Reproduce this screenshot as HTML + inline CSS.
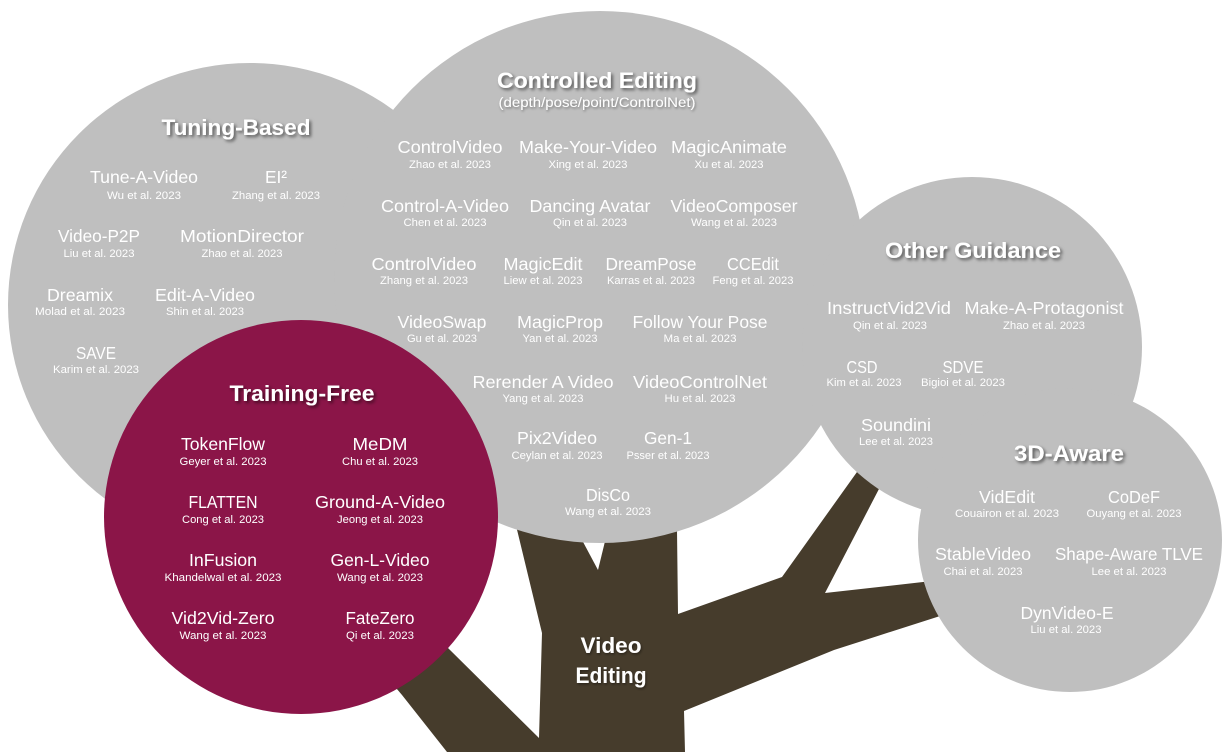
<!DOCTYPE html>
<html><head><meta charset="utf-8"><style>
html,body{margin:0;padding:0;background:#fff;}
svg{display:block;}
text{font-family:"Liberation Sans",Arial,sans-serif;fill:#fff;}
.m{font-size:17.3px;}
.s{font-size:11px;}
.t{font-size:22.5px;font-weight:bold;}
.st{font-size:13.5px;}
</style></head><body>
<svg width="1231" height="752" viewBox="0 0 1231 752" xmlns="http://www.w3.org/2000/svg">
<defs>
<filter id="sh" x="-20%" y="-50%" width="140%" height="200%">
<feDropShadow dx="2" dy="2" stdDeviation="1.6" flood-color="#000" flood-opacity="0.55"/>
</filter>
<filter id="sh2" x="-20%" y="-50%" width="140%" height="200%">
<feDropShadow dx="1" dy="1.5" stdDeviation="1.2" flood-color="#000" flood-opacity="0.4"/>
</filter>
</defs>
<rect width="1231" height="752" fill="#fff"/>
<!-- trunk -->
<polygon fill="#463c2c" points="505,480 542,633 539,738 450,650 420,620 370,657 402,695 447,752 447,760 685,760 685,752 684,711 834,650 937,617 975,605 960,578 923,582 825,593 880,487 895,458 870,450 857,472 782,577 678,614 677,530 677,480"/>
<polygon fill="#fff" points="574,525 598,570 609,525"/>
<!-- circles -->
<g fill="#bfbfbf">
<circle cx="250" cy="305" r="242"/>
<circle cx="600" cy="277" r="266"/>
<circle cx="972" cy="347" r="170"/>
<circle cx="1070" cy="540" r="152"/>
</g>
<circle cx="301" cy="517" r="197" fill="#8b1548"/>

<!-- Tuning-Based -->
<text class="t" x="236" y="135" text-anchor="middle" textLength="149" lengthAdjust="spacingAndGlyphs" filter="url(#sh)">Tuning-Based</text>
<text class="m" x="144" y="183" text-anchor="middle" textLength="108" lengthAdjust="spacingAndGlyphs">Tune-A-Video</text>
<text class="s" x="144" y="199" text-anchor="middle" textLength="74" lengthAdjust="spacingAndGlyphs">Wu et al. 2023</text>
<text class="m" x="276" y="183" text-anchor="middle">EI²</text>
<text class="s" x="276" y="199" text-anchor="middle" textLength="88" lengthAdjust="spacingAndGlyphs">Zhang et al. 2023</text>
<text class="m" x="99" y="242" text-anchor="middle" textLength="82" lengthAdjust="spacingAndGlyphs">Video-P2P</text>
<text class="s" x="99" y="257" text-anchor="middle" textLength="71" lengthAdjust="spacingAndGlyphs">Liu et al. 2023</text>
<text class="m" x="242" y="242" text-anchor="middle" textLength="124" lengthAdjust="spacingAndGlyphs">MotionDirector</text>
<text class="s" x="242" y="257" text-anchor="middle" textLength="81" lengthAdjust="spacingAndGlyphs">Zhao et al. 2023</text>
<text class="m" x="80" y="301" text-anchor="middle" textLength="66" lengthAdjust="spacingAndGlyphs">Dreamix</text>
<text class="s" x="80" y="315" text-anchor="middle" textLength="90" lengthAdjust="spacingAndGlyphs">Molad et al. 2023</text>
<text class="m" x="205" y="301" text-anchor="middle" textLength="100" lengthAdjust="spacingAndGlyphs">Edit-A-Video</text>
<text class="s" x="205" y="315" text-anchor="middle" textLength="78" lengthAdjust="spacingAndGlyphs">Shin et al. 2023</text>
<text class="m" x="96" y="359" text-anchor="middle" textLength="40" lengthAdjust="spacingAndGlyphs">SAVE</text>
<text class="s" x="96" y="373" text-anchor="middle" textLength="86" lengthAdjust="spacingAndGlyphs">Karim et al. 2023</text>

<!-- Controlled Editing -->
<text class="t" x="597" y="88" text-anchor="middle" textLength="200" lengthAdjust="spacingAndGlyphs" filter="url(#sh)">Controlled Editing</text>
<text class="st" x="597" y="107" text-anchor="middle" textLength="197" lengthAdjust="spacingAndGlyphs" filter="url(#sh2)">(depth/pose/point/ControlNet)</text>
<text class="m" x="450" y="153" text-anchor="middle" textLength="105" lengthAdjust="spacingAndGlyphs">ControlVideo</text>
<text class="s" x="450" y="168" text-anchor="middle" textLength="82" lengthAdjust="spacingAndGlyphs">Zhao et al. 2023</text>
<text class="m" x="588" y="153" text-anchor="middle" textLength="138" lengthAdjust="spacingAndGlyphs">Make-Your-Video</text>
<text class="s" x="588" y="168" text-anchor="middle" textLength="79" lengthAdjust="spacingAndGlyphs">Xing et al. 2023</text>
<text class="m" x="729" y="153" text-anchor="middle" textLength="116" lengthAdjust="spacingAndGlyphs">MagicAnimate</text>
<text class="s" x="729" y="168" text-anchor="middle" textLength="69" lengthAdjust="spacingAndGlyphs">Xu et al. 2023</text>
<text class="m" x="445" y="212" text-anchor="middle" textLength="128" lengthAdjust="spacingAndGlyphs">Control-A-Video</text>
<text class="s" x="445" y="226" text-anchor="middle" textLength="83" lengthAdjust="spacingAndGlyphs">Chen et al. 2023</text>
<text class="m" x="590" y="212" text-anchor="middle" textLength="121" lengthAdjust="spacingAndGlyphs">Dancing Avatar</text>
<text class="s" x="590" y="226" text-anchor="middle" textLength="74" lengthAdjust="spacingAndGlyphs">Qin et al. 2023</text>
<text class="m" x="734" y="212" text-anchor="middle" textLength="127" lengthAdjust="spacingAndGlyphs">VideoComposer</text>
<text class="s" x="734" y="226" text-anchor="middle" textLength="86" lengthAdjust="spacingAndGlyphs">Wang et al. 2023</text>
<text class="m" x="424" y="270" text-anchor="middle" textLength="105" lengthAdjust="spacingAndGlyphs">ControlVideo</text>
<text class="s" x="424" y="284" text-anchor="middle" textLength="88" lengthAdjust="spacingAndGlyphs">Zhang et al. 2023</text>
<text class="m" x="543" y="270" text-anchor="middle" textLength="79" lengthAdjust="spacingAndGlyphs">MagicEdit</text>
<text class="s" x="543" y="284" text-anchor="middle" textLength="79" lengthAdjust="spacingAndGlyphs">Liew et al. 2023</text>
<text class="m" x="651" y="270" text-anchor="middle" textLength="91" lengthAdjust="spacingAndGlyphs">DreamPose</text>
<text class="s" x="651" y="284" text-anchor="middle" textLength="88" lengthAdjust="spacingAndGlyphs">Karras et al. 2023</text>
<text class="m" x="753" y="270" text-anchor="middle" textLength="52" lengthAdjust="spacingAndGlyphs">CCEdit</text>
<text class="s" x="753" y="284" text-anchor="middle" textLength="81" lengthAdjust="spacingAndGlyphs">Feng et al. 2023</text>
<text class="m" x="442" y="328" text-anchor="middle" textLength="89" lengthAdjust="spacingAndGlyphs">VideoSwap</text>
<text class="s" x="442" y="342" text-anchor="middle" textLength="70" lengthAdjust="spacingAndGlyphs">Gu et al. 2023</text>
<text class="m" x="560" y="328" text-anchor="middle" textLength="86" lengthAdjust="spacingAndGlyphs">MagicProp</text>
<text class="s" x="560" y="342" text-anchor="middle" textLength="75" lengthAdjust="spacingAndGlyphs">Yan et al. 2023</text>
<text class="m" x="700" y="328" text-anchor="middle" textLength="135" lengthAdjust="spacingAndGlyphs">Follow Your Pose</text>
<text class="s" x="700" y="342" text-anchor="middle" textLength="73" lengthAdjust="spacingAndGlyphs">Ma et al. 2023</text>
<text class="m" x="543" y="388" text-anchor="middle" textLength="141" lengthAdjust="spacingAndGlyphs">Rerender A Video</text>
<text class="s" x="543" y="402" text-anchor="middle" textLength="81" lengthAdjust="spacingAndGlyphs">Yang et al. 2023</text>
<text class="m" x="700" y="388" text-anchor="middle" textLength="134" lengthAdjust="spacingAndGlyphs">VideoControlNet</text>
<text class="s" x="700" y="402" text-anchor="middle" textLength="71" lengthAdjust="spacingAndGlyphs">Hu et al. 2023</text>
<text class="m" x="557" y="444" text-anchor="middle" textLength="80" lengthAdjust="spacingAndGlyphs">Pix2Video</text>
<text class="s" x="557" y="459" text-anchor="middle" textLength="91" lengthAdjust="spacingAndGlyphs">Ceylan et al. 2023</text>
<text class="m" x="668" y="444" text-anchor="middle" textLength="48" lengthAdjust="spacingAndGlyphs">Gen-1</text>
<text class="s" x="668" y="459" text-anchor="middle" textLength="83" lengthAdjust="spacingAndGlyphs">Psser et al. 2023</text>
<text class="m" x="608" y="501" text-anchor="middle" textLength="44" lengthAdjust="spacingAndGlyphs">DisCo</text>
<text class="s" x="608" y="515" text-anchor="middle" textLength="86" lengthAdjust="spacingAndGlyphs">Wang et al. 2023</text>

<!-- Other Guidance -->
<text class="t" x="973" y="258" text-anchor="middle" textLength="176" lengthAdjust="spacingAndGlyphs" filter="url(#sh)">Other Guidance</text>
<text class="m" x="889" y="314" text-anchor="middle" textLength="124" lengthAdjust="spacingAndGlyphs">InstructVid2Vid</text>
<text class="s" x="890" y="329" text-anchor="middle" textLength="74" lengthAdjust="spacingAndGlyphs">Qin et al. 2023</text>
<text class="m" x="1044" y="314" text-anchor="middle" textLength="159" lengthAdjust="spacingAndGlyphs">Make-A-Protagonist</text>
<text class="s" x="1044" y="329" text-anchor="middle" textLength="82" lengthAdjust="spacingAndGlyphs">Zhao et al. 2023</text>
<text class="m" x="862" y="373" text-anchor="middle" textLength="31" lengthAdjust="spacingAndGlyphs">CSD</text>
<text class="s" x="864" y="386" text-anchor="middle" textLength="75" lengthAdjust="spacingAndGlyphs">Kim et al. 2023</text>
<text class="m" x="963" y="373" text-anchor="middle" textLength="41" lengthAdjust="spacingAndGlyphs">SDVE</text>
<text class="s" x="963" y="386" text-anchor="middle" textLength="84" lengthAdjust="spacingAndGlyphs">Bigioi et al. 2023</text>
<text class="m" x="896" y="431" text-anchor="middle" textLength="70" lengthAdjust="spacingAndGlyphs">Soundini</text>
<text class="s" x="896" y="445" text-anchor="middle" textLength="74" lengthAdjust="spacingAndGlyphs">Lee et al. 2023</text>

<!-- 3D-Aware -->
<text class="t" x="1069" y="461" text-anchor="middle" textLength="110" lengthAdjust="spacingAndGlyphs" filter="url(#sh)">3D-Aware</text>
<text class="m" x="1007" y="503" text-anchor="middle" textLength="56" lengthAdjust="spacingAndGlyphs">VidEdit</text>
<text class="s" x="1007" y="517" text-anchor="middle" textLength="104" lengthAdjust="spacingAndGlyphs">Couairon et al. 2023</text>
<text class="m" x="1134" y="503" text-anchor="middle" textLength="52" lengthAdjust="spacingAndGlyphs">CoDeF</text>
<text class="s" x="1134" y="517" text-anchor="middle" textLength="95" lengthAdjust="spacingAndGlyphs">Ouyang et al. 2023</text>
<text class="m" x="983" y="560" text-anchor="middle" textLength="96" lengthAdjust="spacingAndGlyphs">StableVideo</text>
<text class="s" x="983" y="575" text-anchor="middle" textLength="79" lengthAdjust="spacingAndGlyphs">Chai et al. 2023</text>
<text class="m" x="1129" y="560" text-anchor="middle" textLength="148" lengthAdjust="spacingAndGlyphs">Shape-Aware TLVE</text>
<text class="s" x="1129" y="575" text-anchor="middle" textLength="75" lengthAdjust="spacingAndGlyphs">Lee et al. 2023</text>
<text class="m" x="1067" y="619" text-anchor="middle" textLength="93" lengthAdjust="spacingAndGlyphs">DynVideo-E</text>
<text class="s" x="1066" y="633" text-anchor="middle" textLength="71" lengthAdjust="spacingAndGlyphs">Liu et al. 2023</text>

<!-- Training-Free -->
<text class="t" x="302" y="401" text-anchor="middle" textLength="145" lengthAdjust="spacingAndGlyphs" filter="url(#sh)">Training-Free</text>
<text class="m" x="223" y="450" text-anchor="middle" textLength="84" lengthAdjust="spacingAndGlyphs">TokenFlow</text>
<text class="s" x="223" y="465" text-anchor="middle" textLength="87" lengthAdjust="spacingAndGlyphs">Geyer et al. 2023</text>
<text class="m" x="380" y="450" text-anchor="middle" textLength="55" lengthAdjust="spacingAndGlyphs">MeDM</text>
<text class="s" x="380" y="465" text-anchor="middle" textLength="76" lengthAdjust="spacingAndGlyphs">Chu et al. 2023</text>
<text class="m" x="223" y="508" text-anchor="middle" textLength="69" lengthAdjust="spacingAndGlyphs">FLATTEN</text>
<text class="s" x="223" y="523" text-anchor="middle" textLength="82" lengthAdjust="spacingAndGlyphs">Cong et al. 2023</text>
<text class="m" x="380" y="508" text-anchor="middle" textLength="130" lengthAdjust="spacingAndGlyphs">Ground-A-Video</text>
<text class="s" x="380" y="523" text-anchor="middle" textLength="86" lengthAdjust="spacingAndGlyphs">Jeong et al. 2023</text>
<text class="m" x="223" y="566" text-anchor="middle" textLength="68" lengthAdjust="spacingAndGlyphs">InFusion</text>
<text class="s" x="223" y="581" text-anchor="middle" textLength="117" lengthAdjust="spacingAndGlyphs">Khandelwal et al. 2023</text>
<text class="m" x="380" y="566" text-anchor="middle" textLength="99" lengthAdjust="spacingAndGlyphs">Gen-L-Video</text>
<text class="s" x="380" y="581" text-anchor="middle" textLength="86" lengthAdjust="spacingAndGlyphs">Wang et al. 2023</text>
<text class="m" x="223" y="624" text-anchor="middle" textLength="103" lengthAdjust="spacingAndGlyphs">Vid2Vid-Zero</text>
<text class="s" x="223" y="639" text-anchor="middle" textLength="87" lengthAdjust="spacingAndGlyphs">Wang et al. 2023</text>
<text class="m" x="380" y="624" text-anchor="middle" textLength="69" lengthAdjust="spacingAndGlyphs">FateZero</text>
<text class="s" x="380" y="639" text-anchor="middle" textLength="68" lengthAdjust="spacingAndGlyphs">Qi et al. 2023</text>

<!-- Video Editing -->
<text class="t" style="font-size:22px" x="611" y="653" text-anchor="middle" textLength="61" lengthAdjust="spacingAndGlyphs" filter="url(#sh2)">Video</text>
<text class="t" style="font-size:22px" x="611" y="683" text-anchor="middle" textLength="71" lengthAdjust="spacingAndGlyphs" filter="url(#sh2)">Editing</text>
</svg>
</body></html>
